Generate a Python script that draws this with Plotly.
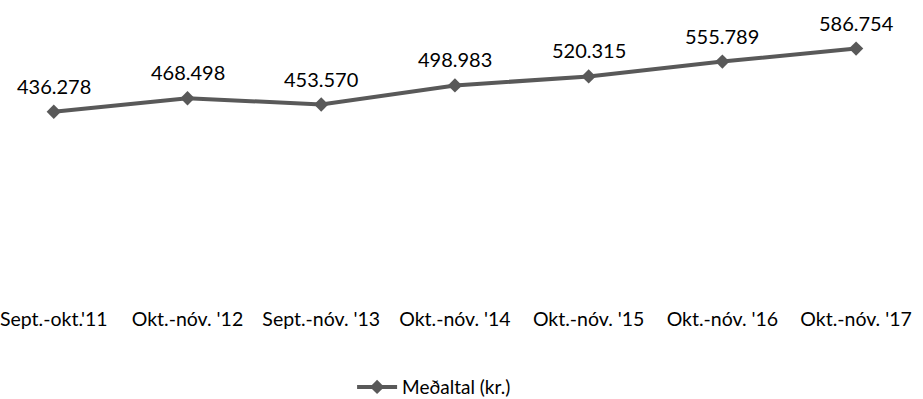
import plotly.graph_objects as go

categories = ["Sept.-okt.'11", "Okt.-nóv. '12", "Sept.-nóv. '13", "Okt.-nóv. '14",
              "Okt.-nóv. '15", "Okt.-nóv. '16", "Okt.-nóv. '17"]
values = [436278, 468498, 453570, 498983, 520315, 555789, 586754]
series_name = "Meðaltal (kr.)"

FONT = "Lato, 'Open Sans', sans-serif"
COLOR = "#595959"
idx = list(range(len(categories)))

fig = go.Figure()
fig.add_trace(go.Scatter(
    x=idx, y=values, mode="lines+markers", name=series_name,
    line=dict(color=COLOR, width=4),
    marker=dict(symbol="diamond", size=11, color=COLOR),
    cliponaxis=False,
))

for i, v in zip(idx, values):
    fig.add_annotation(x=i, y=v, text=f"{v:,}".replace(",", "."),
                       showarrow=False, yshift=26, yanchor="middle",
                       font=dict(family=FONT, size=20, color="#000000"))

fig.update_layout(
    width=923, height=399,
    margin=dict(l=0, r=0, t=1, b=104, pad=0),
    paper_bgcolor="white", plot_bgcolor="white",
    font=dict(family=FONT, size=20, color="#000000"),
    showlegend=True,
    legend=dict(orientation="h", x=0.468, xanchor="center", y=0.03, yanchor="middle",
                yref="container", font=dict(family=FONT, size=19, color="#000000"),
                itemwidth=40),
    xaxis=dict(range=[-50/134.3, (923-50)/134.3], tickmode="array", tickvals=idx,
               ticktext=categories, showgrid=False, zeroline=False, showline=False,
               ticks="", ticklabelstandoff=10, ticklabeloverflow="allow",
               tickfont=dict(family=FONT, size=19.5)),
    yaxis=dict(range=[0, 700000], visible=False, showgrid=False, zeroline=False),
)

fig.write_html("out.html", config={"displayModeBar": False},
               post_script="document.body.style.margin='0';document.body.style.overflow='hidden';")
